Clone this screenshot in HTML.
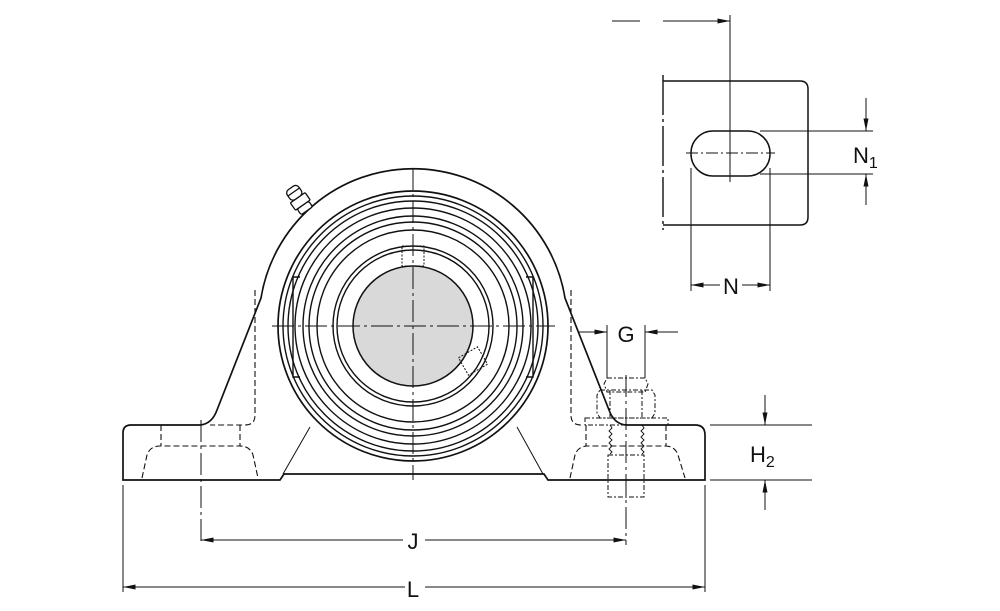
<!DOCTYPE html>
<html><head><meta charset="utf-8"><style>
html,body{margin:0;padding:0;background:#fff;}
svg{display:block;}
text{font-family:"Liberation Sans",sans-serif;fill:#111;}
</style></head><body>
<svg width="1000" height="611" viewBox="0 0 1000 611" xmlns="http://www.w3.org/2000/svg">
<defs>
<marker id="a" viewBox="0 0 10 4" refX="10" refY="2" markerWidth="14" markerHeight="5" markerUnits="userSpaceOnUse" orient="auto"><path d="M0,0 L10,2 L0,4z" fill="#111"/></marker>
</defs>
<g fill="none" stroke="#111" stroke-width="1.7">
<path d="M123,480 L123,433 Q123,425 131,425 L200,425 Q212,424 217,410 L261,298 A154,154 0 0 1 565,298 L609,410 Q614,424 626,425 L695,425 Q705,425 705,435 L705,480 L548,480 L544,474 L284,474 L280,480 Z"/>
<line x1="283" y1="474" x2="310" y2="427" stroke-width="1"/>
<line x1="543" y1="474" x2="517" y2="427" stroke-width="1"/>
</g>
<circle cx="413" cy="326" r="60" fill="#d9d9d9" stroke="#111" stroke-width="1.5"/>
<g fill="none" stroke="#111" stroke-width="1.4">
<circle cx="413" cy="326" r="135" stroke-width="1.7"/>
<circle cx="413" cy="326" r="130"/>
<circle cx="413" cy="326" r="125"/>
<circle cx="413" cy="326" r="118"/>
<circle cx="413" cy="326" r="110"/>
<circle cx="413" cy="326" r="104"/>
<circle cx="413" cy="326" r="96"/>
<circle cx="413" cy="326" r="80"/>
<circle cx="413" cy="326" r="76"/>
<path d="M300,277 L293,277 L293,377 L300,377"/>
<path d="M526,277 L533,277 L533,377 L526,377"/>
</g>
<g transform="translate(300,201) rotate(-35)" fill="#fff" stroke="#111" stroke-width="1.3">
<rect x="-7" y="5" width="14" height="7" rx="2"/>
<rect x="-9" y="-4" width="18" height="9" rx="1"/>
<rect x="-7" y="-16" width="14" height="12" rx="4"/>
<line x1="-7" y1="-11" x2="7" y2="-11"/>
</g>
<g fill="none" stroke="#111" stroke-width="1" stroke-dasharray="2,1.5">
<rect x="402" y="246" width="22" height="20"/>
<g transform="translate(473,361) rotate(-30)"><rect x="-11" y="-10" width="22" height="20"/></g>
</g>
<g stroke="#111" stroke-width="1" stroke-dasharray="22,4,3,4" fill="none">
<line x1="272" y1="326" x2="555" y2="326"/>
<line x1="413" y1="168" x2="413" y2="480"/>
<line x1="201" y1="420" x2="201" y2="545"/>
<line x1="626" y1="375" x2="626" y2="545"/>
</g>
<g fill="none" stroke="#111" stroke-width="1.1" stroke-dasharray="6,3">
<path d="M255,290 L255,415 Q255,425 245,425 L210,425"/>
<path d="M571,290 L571,415 Q571,425 581,425"/>
<path d="M161,425 L161,446 M240,425 L240,446"/>
<path d="M142,478 L147,455 Q150,446 160,446 L240,446 Q250,446 253,455 L258,478"/>
<path d="M586,425 L586,446 M666,425 L666,446"/>
<path d="M570,478 L575,455 Q578,446 588,446 L665,446 Q675,446 678,455 L685,478"/>
</g>
<g fill="none" stroke="#111" stroke-width="1" stroke-dasharray="5,2,2,2">
<path d="M607,378 L645,378 L648,384 L645,392 L607,392 L604,384 Z"/>
<path d="M600,390 L652,390 L655,395 L655,413 L652,418 L600,418 L597,413 L597,395 Z"/>
<line x1="610" y1="390" x2="610" y2="418"/>
<line x1="642" y1="390" x2="642" y2="418"/>
<rect x="585" y="418" width="83" height="7"/>
<rect x="608" y="455" width="36" height="42"/>
</g>
<g fill="none" stroke="#111" stroke-width="0.9">
<path d="M610,425 l2,3 l-3,3 l3,3 l-3,3 l3,3 l-3,3 l3,3 l-3,3 l3,3 l-2,2"/>
<path d="M642,425 l2,3 l-3,3 l3,3 l-3,3 l3,3 l-3,3 l3,3 l-3,3 l3,3 l-2,2"/>
</g>
<g stroke="#111" stroke-width="1" fill="none">
<line x1="123" y1="485" x2="123" y2="592"/>
<line x1="705" y1="485" x2="705" y2="592"/>
<line x1="405" y1="587" x2="123" y2="587" marker-end="url(#a)"/>
<line x1="425" y1="587" x2="705" y2="587" marker-end="url(#a)"/>
<line x1="403" y1="540" x2="201" y2="540" marker-end="url(#a)"/>
<line x1="425" y1="540" x2="626" y2="540" marker-end="url(#a)"/>
<line x1="710" y1="425" x2="812" y2="425"/>
<line x1="710" y1="480" x2="812" y2="480"/>
<line x1="765" y1="395" x2="765" y2="425" marker-end="url(#a)"/>
<line x1="765" y1="510" x2="765" y2="480" marker-end="url(#a)"/>
<line x1="607" y1="325" x2="607" y2="378"/>
<line x1="645" y1="325" x2="645" y2="378"/>
<line x1="578" y1="332" x2="607" y2="332" marker-end="url(#a)"/>
<line x1="678" y1="332" x2="645" y2="332" marker-end="url(#a)"/>
</g>
<g fill="none" stroke="#111" stroke-width="1.5">
<path d="M663,81 L800,81 Q808,81 808,89 L808,217 Q808,225 800,225 L663,225"/>
<rect x="691" y="131" width="79" height="45" rx="22"/>
</g>
<g stroke="#111" stroke-width="1" fill="none">
<line x1="663" y1="75" x2="663" y2="230" stroke-dasharray="40,4,3,4" stroke-width="1.4"/>
<line x1="730" y1="15" x2="730" y2="182"/>
<line x1="686" y1="153" x2="775" y2="153" stroke-dasharray="12,3,2,3"/>
<line x1="612" y1="21" x2="640" y2="21"/>
<line x1="663" y1="21" x2="730" y2="21" marker-end="url(#a)"/>
<line x1="760" y1="131" x2="873" y2="131"/>
<line x1="760" y1="174" x2="873" y2="174"/>
<line x1="866" y1="98" x2="866" y2="131" marker-end="url(#a)"/>
<line x1="866" y1="205" x2="866" y2="174" marker-end="url(#a)"/>
<line x1="691" y1="168" x2="691" y2="291"/>
<line x1="770" y1="168" x2="770" y2="291"/>
<line x1="720" y1="285" x2="691" y2="285" marker-end="url(#a)"/>
<line x1="742" y1="285" x2="770" y2="285" marker-end="url(#a)"/>
</g>
<g font-size="22">
<text x="413" y="549" text-anchor="middle">J</text>
<text x="413" y="597" text-anchor="middle">L</text>
<text x="626" y="342" text-anchor="middle">G</text>
<text x="731" y="294" text-anchor="middle">N</text>
<text x="750" y="462">H<tspan font-size="16" dy="5">2</tspan></text>
<text x="853" y="163">N<tspan font-size="16" dy="5">1</tspan></text>
</g>
</svg>
</body></html>
